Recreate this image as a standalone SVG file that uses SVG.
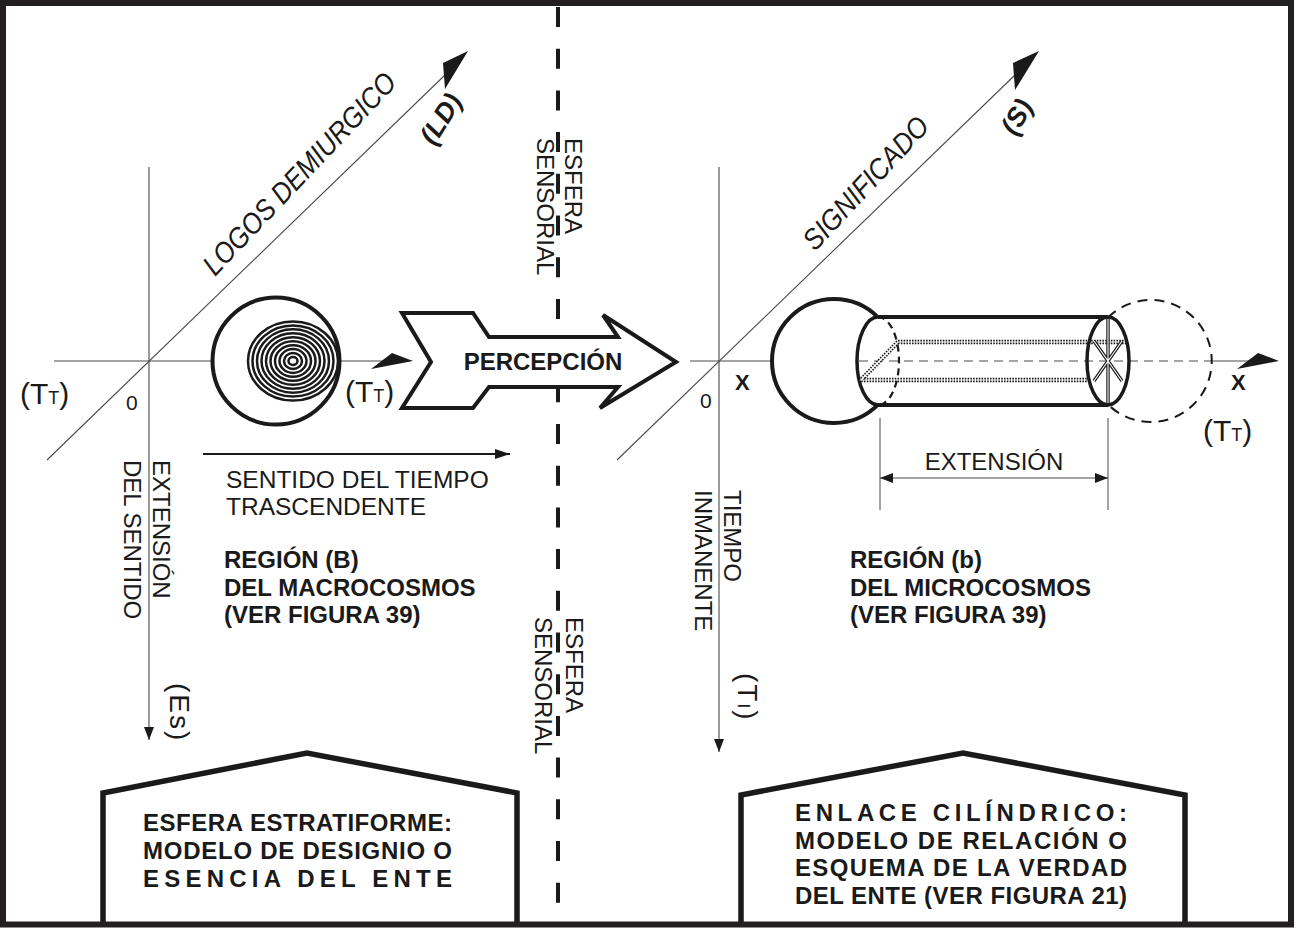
<svg xmlns="http://www.w3.org/2000/svg" width="1296" height="928" viewBox="0 0 1296 928">
<defs>
<style>
text{font-family:"Liberation Sans",Arial,sans-serif;fill:#1a1a1a}
.b{font-weight:bold}
.it{font-style:italic}
.axis{stroke:#4a4a4a;stroke-width:1.1;fill:none}
.thin{stroke:#4a4a4a;stroke-width:1;fill:none}
.heavy{stroke:#1a1a1a;stroke-width:4;fill:none}
.dash{stroke:#4a4a4a;stroke-width:1;fill:none;stroke-dasharray:9 6}
.ring{stroke:#1a1a1a;stroke-width:2.5;fill:none}
.dot{stroke:#1a1a1a;stroke-width:4.6;fill:none;stroke-dasharray:1.6 1.2}
.dotw{stroke:#fff;stroke-width:1.2;fill:none}
.dbl{stroke:#1a1a1a;stroke-width:3.4;fill:none}
.dblw{stroke:#fff;stroke-width:1.1;fill:none}
.head{fill:#1a1a1a}
.box{stroke:#1a1a1a;stroke-width:5.5;fill:#fff;stroke-linejoin:miter}
.t24{font-size:24px}
.t24b{font-size:24px;font-weight:bold}
</style>
<marker id="ah" viewBox="0 0 13 10" refX="13" refY="5" markerWidth="13" markerHeight="10" markerUnits="userSpaceOnUse" orient="auto"><path d="M0,0L13,5L0,10z" fill="#1a1a1a"/></marker>
<marker id="ah2" viewBox="0 0 15 10" refX="15" refY="5" markerWidth="15" markerHeight="10" markerUnits="userSpaceOnUse" orient="auto"><path d="M0,0L15,5L0,10z" fill="#1a1a1a"/></marker>
<marker id="ahr" viewBox="0 0 13 10" refX="13" refY="5" markerWidth="13" markerHeight="10" markerUnits="userSpaceOnUse" orient="auto-start-reverse"><path d="M0,0L13,5L0,10z" fill="#1a1a1a"/></marker>
</defs>
<rect x="0" y="0" width="1296" height="928" fill="#fff"/>

<g id="connectors">
  <line x1="558" y1="7" x2="558" y2="921" stroke="#1a1a1a" stroke-width="4" stroke-dasharray="20 21.7"/>
  <line class="axis" x1="54" y1="361" x2="398" y2="361"/>
  <line class="axis" x1="149" y1="167" x2="149" y2="740" marker-end="url(#ah)"/>
  <line class="axis" x1="47" y1="460" x2="445" y2="75"/>
  <polygon class="head" points="443,63 468,51 445,89"/>
  <polygon class="head" points="413,361 392,353 371,369"/>
  <line x1="203" y1="454" x2="510" y2="454" stroke="#1a1a1a" stroke-width="2" marker-end="url(#ah2)"/>
  <line class="axis" x1="690" y1="361" x2="772" y2="361"/>
  <line class="dash" x1="859" y1="361" x2="1212" y2="361"/>
  <line class="axis" x1="1212" y1="361" x2="1262" y2="361"/>
  <polygon class="head" points="1279,361 1258,353 1237,369"/>
  <line class="axis" x1="719" y1="167" x2="719" y2="752" marker-end="url(#ah)"/>
  <line class="axis" x1="617" y1="460" x2="1015" y2="75"/>
  <polygon class="head" points="1013,63 1039,51 1015,90"/>
  <line class="thin" x1="880" y1="418" x2="880" y2="510"/>
  <line class="thin" x1="1108" y1="418" x2="1108" y2="510"/>
  <line class="thin" x1="880" y1="478" x2="1108" y2="478" marker-start="url(#ahr)" marker-end="url(#ahr)"/>
</g>

<g id="esfera-estratiforme">
  <circle cx="276" cy="361" r="63.5" fill="#fff" stroke="#1a1a1a" stroke-width="4"/>
  <ellipse class="ring" cx="293" cy="361" rx="4.5" ry="4"/>
  <ellipse class="ring" cx="293" cy="361" rx="9" ry="7.9"/>
  <ellipse class="ring" cx="293" cy="361" rx="13.5" ry="11.9"/>
  <ellipse class="ring" cx="293" cy="361" rx="18" ry="15.8"/>
  <ellipse class="ring" cx="293" cy="361" rx="22.5" ry="19.8"/>
  <ellipse class="ring" cx="293" cy="361" rx="27" ry="23.8"/>
  <ellipse class="ring" cx="293" cy="361" rx="31.5" ry="27.7"/>
  <ellipse class="ring" cx="293" cy="361" rx="36" ry="31.7"/>
  <ellipse class="ring" cx="293" cy="361" rx="40.5" ry="35.6"/>
  <ellipse class="ring" cx="293" cy="361" rx="45" ry="39.6"/>
</g>

<g id="percepcion">
  <polygon points="402,313 473,313 489,337 618,337 603,315 676,362 600,408 618,387 489,387 473,408 402,408 431,362" fill="#fff" stroke="#1a1a1a" stroke-width="4" stroke-linejoin="miter"/>
  <text x="543" y="370" text-anchor="middle" class="t24b">PERCEPCIÓN</text>
</g>

<g id="enlace-cilindrico">
  <path class="heavy" d="M878,317.3 A62,62 0 1 0 878,404.7"/>
  <path class="heavy" d="M878,317 H1108 M878,405 H1108"/>
  <path d="M878,317 A21,44 0 0 0 878,405" stroke="#1a1a1a" stroke-width="3.5" fill="none"/>
  <path d="M878,317 A21,44 0 0 1 878,405" stroke="#1a1a1a" stroke-width="2.2" fill="none" stroke-dasharray="7 5"/>
  <path class="dot" d="M898,342 H1127 M898,342 L861,380 H1089"/>
  <path class="dotw" d="M898,342 H1127 M898,342 L861,380 H1089"/>
  <path class="dbl" d="M1108,318 V404 M1094,341 L1122,381 M1122,341 L1094,381"/>
  <path class="dblw" d="M1108,318 V404 M1094,341 L1122,381 M1122,341 L1094,381"/>
  <ellipse cx="1108" cy="361" rx="21" ry="44" stroke="#1a1a1a" stroke-width="3.5" fill="none"/>
  <path d="M1108,317.5 A61,61 0 1 1 1108,404.5" stroke="#1a1a1a" stroke-width="2" fill="none" stroke-dasharray="10 7"/>
</g>

<g id="labels-left">
  <text x="20" y="404" font-size="30">(T<tspan font-size="18">T</tspan>)</text>
  <text x="345" y="402" font-size="30">(T<tspan font-size="18">T</tspan>)</text>
  <text x="126" y="410" font-size="21">0</text>
  <text transform="translate(215,277) rotate(-46.5)" class="it" font-size="29" textLength="266" lengthAdjust="spacingAndGlyphs">LOGOS DEMIURGICO</text>
  <text transform="translate(441,119) rotate(-58)" text-anchor="middle" y="9" class="b it" font-size="27">(LD)</text>
  <text x="226" y="488" font-size="24.5">SENTIDO DEL TIEMPO</text>
  <text x="226" y="515" font-size="24.5">TRASCENDENTE</text>
  <text x="224" y="568" class="t24b">REGIÓN (B)</text>
  <text x="224" y="596" class="t24b">DEL MACROCOSMOS</text>
  <text x="224" y="623" class="t24b">(VER FIGURA 39)</text>
  <text transform="translate(153,460) rotate(90)" class="t24">EXTENSIÓN</text>
  <text transform="translate(124,460) rotate(90)" class="t24">DEL SENTIDO</text>
  <text transform="translate(170,683) rotate(90)" font-size="28" letter-spacing="2">(Es)</text>
</g>

<g id="labels-center">
  <text transform="translate(565,138) rotate(90)" class="t24">ESFERA</text>
  <text transform="translate(537,138) rotate(90)" class="t24">SENSORIAL</text>
  <text transform="translate(566,617) rotate(90)" class="t24">ESFERA</text>
  <text transform="translate(535,617) rotate(90)" class="t24">SENSORIAL</text>
</g>

<g id="labels-right">
  <text x="700" y="408" font-size="21">0</text>
  <text x="735" y="390" class="b" font-size="22">X</text>
  <text x="1231" y="390" class="b" font-size="22">X</text>
  <text x="1203" y="441" font-size="30">(T<tspan font-size="18">T</tspan>)</text>
  <text transform="translate(815,252) rotate(-47)" class="it" font-size="29" textLength="170" lengthAdjust="spacingAndGlyphs">SIGNIFICADO</text>
  <text transform="translate(1017,117) rotate(-60)" text-anchor="middle" y="9" class="b it" font-size="27">(S)</text>
  <text x="994" y="470" text-anchor="middle" class="t24">EXTENSIÓN</text>
  <text x="850" y="568" class="t24b">REGIÓN (b)</text>
  <text x="850" y="596" class="t24b">DEL MICROCOSMOS</text>
  <text x="850" y="623" class="t24b">(VER FIGURA 39)</text>
  <text transform="translate(724,490) rotate(90)" class="t24">TIEMPO</text>
  <text transform="translate(695,490) rotate(90)" class="t24">INMANENTE</text>
  <text transform="translate(738,673) rotate(90)" font-size="28" letter-spacing="2">(T<tspan font-size="17">I</tspan>)</text>
</g>

<g id="box-esfera">
  <path class="box" d="M103,923 V793 L307,753 L517,793 V923"/>
  <text x="143" y="831" class="t24b" textLength="309" lengthAdjust="spacing">ESFERA ESTRATIFORME:</text>
  <text x="143" y="859" class="t24b" textLength="309" lengthAdjust="spacing">MODELO DE DESIGNIO O</text>
  <text x="143" y="887" class="t24b" textLength="309" lengthAdjust="spacing">ESENCIA DEL ENTE</text>
</g>

<g id="box-enlace">
  <path class="box" d="M741,923 V795 L963,753 L1185,795 V923"/>
  <text x="795" y="821" class="t24b" textLength="332" lengthAdjust="spacing">ENLACE CILÍNDRICO:</text>
  <text x="795" y="849" class="t24b" textLength="332" lengthAdjust="spacing">MODELO DE RELACIÓN O</text>
  <text x="795" y="876" class="t24b" textLength="332" lengthAdjust="spacing">ESQUEMA DE LA VERDAD</text>
  <text x="795" y="904" class="t24b" textLength="332" lengthAdjust="spacing">DEL ENTE (VER FIGURA 21)</text>
</g>

<rect x="3" y="3" width="1288" height="921.5" fill="none" stroke="#231f20" stroke-width="6"/>
</svg>
